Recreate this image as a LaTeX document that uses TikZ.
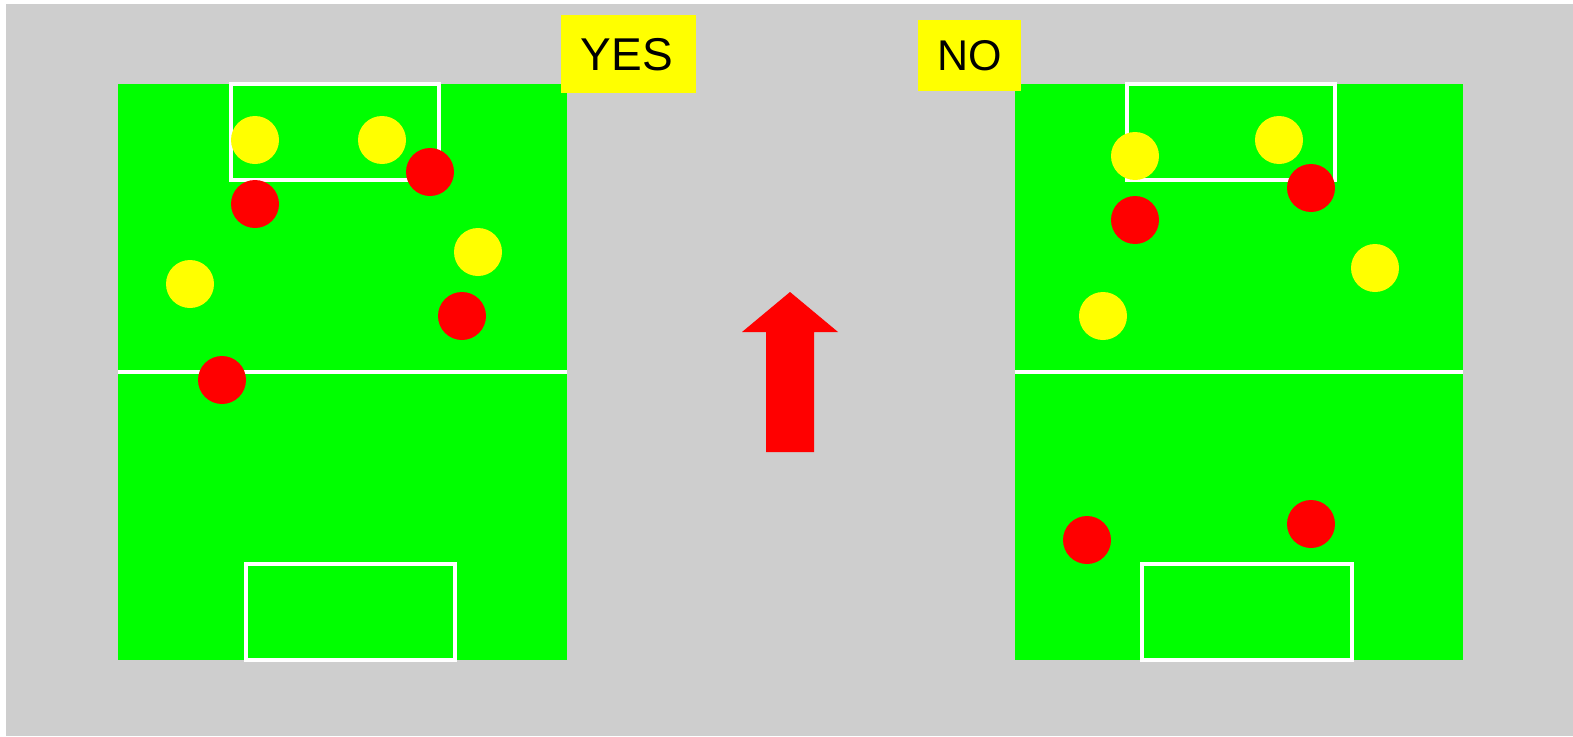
\documentclass[tikz,border=0pt]{standalone}
\usepackage{fontspec}
\setmainfont{Liberation Sans}
\definecolor{bggray}{RGB}{206,206,206}
\definecolor{pitch}{RGB}{0,255,0}
\definecolor{ball}{RGB}{255,255,0}
\definecolor{rd}{RGB}{255,0,0}
\tikzset{
  field/.style={fill=pitch, draw=none},
  wline/.style={draw=white, line width=3.5pt},
  ydot/.style={circle, fill=ball, draw=none, minimum size=48pt, inner sep=0pt},
  rdot/.style={circle, fill=rd, draw=none, minimum size=48pt, inner sep=0pt}
}
\begin{document}
\begin{tikzpicture}[x=1pt,y=-1pt]
\useasboundingbox (0,0) rectangle (1573,736);
\fill[bggray] (6,4) rectangle (1573,736);
% left pitch
\fill[field] (118,84) rectangle (567,660);
\draw[wline] (231,84) rectangle (439,180);
\draw[wline] (246,564) rectangle (455,660);
\draw[wline] (118,372) -- (567,372);
% right pitch
\fill[field] (1015,84) rectangle (1463,660);
\draw[wline] (1127,84) rectangle (1335,180);
\draw[wline] (1142,564) rectangle (1352,660);
\draw[wline] (1015,372) -- (1463,372);
% left players
\node[ydot] (ly1) at (255,140) {};
\node[ydot] (ly2) at (382,140) {};
\node[ydot] (ly3) at (478,252) {};
\node[ydot] (ly4) at (190,284) {};
\node[rdot] (lr1) at (430,172) {};
\node[rdot] (lr2) at (255,204) {};
\node[rdot] (lr3) at (462,316) {};
\node[rdot] (lr4) at (222,380) {};
% right players
\node[ydot] (ry1) at (1135,156) {};
\node[ydot] (ry2) at (1279,140) {};
\node[ydot] (ry3) at (1375,268) {};
\node[ydot] (ry4) at (1103,316) {};
\node[rdot] (rr1) at (1311,188) {};
\node[rdot] (rr2) at (1135,220) {};
\node[rdot] (rr3) at (1087,540) {};
\node[rdot] (rr4) at (1311,524) {};
% labels
\fill[ball] (561,15) rectangle (696,93);
\node[font=\fontsize{46}{46}\selectfont, anchor=center] (yes) at (627,55) {YES};
\fill[ball] (918,20) rectangle (1021,91);
\node[font=\fontsize{43}{43}\selectfont, anchor=center] (no) at (970,56) {NO};
% arrow
\fill[rd] (790,292) -- (838,332) -- (814,332) -- (814,452) -- (766,452) -- (766,332) -- (742,332) -- cycle;
\end{tikzpicture}
\end{document}
